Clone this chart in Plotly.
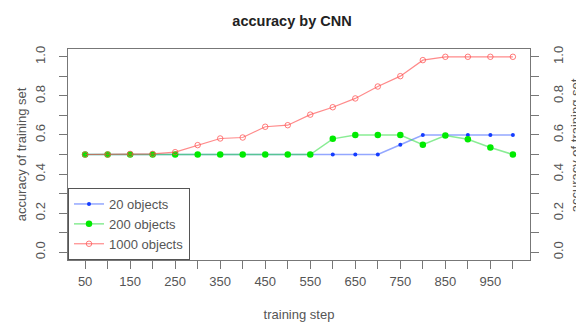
import plotly.graph_objects as go

steps = [50, 100, 150, 200, 250, 300, 350, 400, 450, 500,
         550, 600, 650, 700, 750, 800, 850, 900, 950, 1000]
acc_20 = [0.5, 0.5, 0.5, 0.5, 0.5, 0.5, 0.5, 0.5, 0.5, 0.5,
          0.5, 0.5, 0.5, 0.5, 0.55, 0.6, 0.6, 0.6, 0.6, 0.6]
acc_200 = [0.5, 0.5, 0.5, 0.5, 0.5, 0.5, 0.5, 0.5, 0.5, 0.5,
           0.5, 0.58, 0.6, 0.6, 0.6, 0.55, 0.597, 0.578, 0.536, 0.5]
acc_1000 = [0.5, 0.5, 0.503, 0.503, 0.512, 0.548, 0.582, 0.587, 0.642, 0.65,
            0.704, 0.742, 0.787, 0.848, 0.901, 0.983, 1.0, 1.0, 1.0, 1.0]
x_tick_labels = ["50", "", "150", "", "250", "", "350", "", "450", "",
                 "550", "", "650", "", "750", "", "850", "", "950", ""]
y_ticks = [0.0, 0.1, 0.2, 0.3, 0.4, 0.5, 0.6, 0.7, 0.8, 0.9, 1.0]
y_tick_labels = ["0.0", "", "0.2", "", "0.4", "", "0.6", "", "0.8", "", "1.0"]
y_title = "accuracy of training set"

FONT = "Liberation Sans, Arial, sans-serif"
TXT = "#555555"
AX = "#777777"

fig = go.Figure()
fig.add_trace(go.Scatter(
    x=steps, y=acc_20, name="20 objects", mode="lines+markers",
    line=dict(color="rgba(40,80,255,0.5)", width=1.5),
    marker=dict(color="rgb(20,60,255)", size=4)))
fig.add_trace(go.Scatter(
    x=steps, y=acc_200, name="200 objects", mode="lines+markers",
    line=dict(color="rgba(40,220,60,0.55)", width=1.5),
    marker=dict(color="rgb(0,235,0)", size=6.5)))
fig.add_trace(go.Scatter(
    x=steps, y=acc_1000, name="1000 objects", mode="lines+markers",
    line=dict(color="rgba(255,60,60,0.6)", width=1.2),
    marker=dict(symbol="circle-open", color="rgba(255,80,80,0.75)", size=5.5,
                line=dict(width=1))))
# invisible trace to carry the right-hand axis
fig.add_trace(go.Scatter(x=steps, y=acc_1000, yaxis="y2", mode="lines",
                         line=dict(width=0), opacity=0, showlegend=False,
                         hoverinfo="skip"))

axis_common = dict(showgrid=False, zeroline=False, showline=True,
                   linecolor=AX, linewidth=1, ticks="outside", ticklen=8,
                   tickcolor=AX, automargin=False,
                   tickfont=dict(family=FONT, size=13, color=TXT))

# the page body adds an 8px offset, so the figure is laid out 8px up/left
fig.update_layout(
    width=584, height=327,
    margin=dict(l=60, r=62, t=41, b=75),
    paper_bgcolor="white", plot_bgcolor="white",
    font=dict(family=FONT, color=TXT),
    title=dict(text="<b>accuracy by CNN</b>", x=0.5 - 8 / 584, xanchor="center",
               y=0.962, yanchor="middle",
               font=dict(family=FONT, size=14.5, color="#222222")),
    xaxis=dict(range=[12, 1038], tickvals=steps, ticktext=x_tick_labels,
               mirror=True, ticklabelstandoff=1,
               title=dict(text="training step", standoff=22,
                          font=dict(family=FONT, size=13, color=TXT)),
               **axis_common),
    yaxis=dict(range=[-0.04, 1.04], tickvals=y_ticks, ticktext=y_tick_labels,
               tickangle=-90, mirror=True, ticklabelstandoff=9,
               title=dict(text=y_title, standoff=3,
                          font=dict(family=FONT, size=13, color=TXT)),
               **axis_common),
    yaxis2=dict(range=[-0.04, 1.04], tickvals=y_ticks, ticktext=y_tick_labels,
                tickangle=-90, overlaying="y", side="right", ticklabelstandoff=8,
                **axis_common),
    legend=dict(x=0, y=0, xanchor="left", yanchor="bottom",
                bgcolor="white", bordercolor="#555555", borderwidth=1,
                font=dict(family=FONT, size=13, color=TXT),
                tracegroupgap=0, itemwidth=30),
    showlegend=True,
    annotations=[dict(text=y_title, xref="paper", yref="paper",
                      x=1.098, y=0.545, xanchor="center", yanchor="middle",
                      textangle=-90, showarrow=False,
                      font=dict(family=FONT, size=13, color=TXT))],
)

fig.write_html("out.html")
